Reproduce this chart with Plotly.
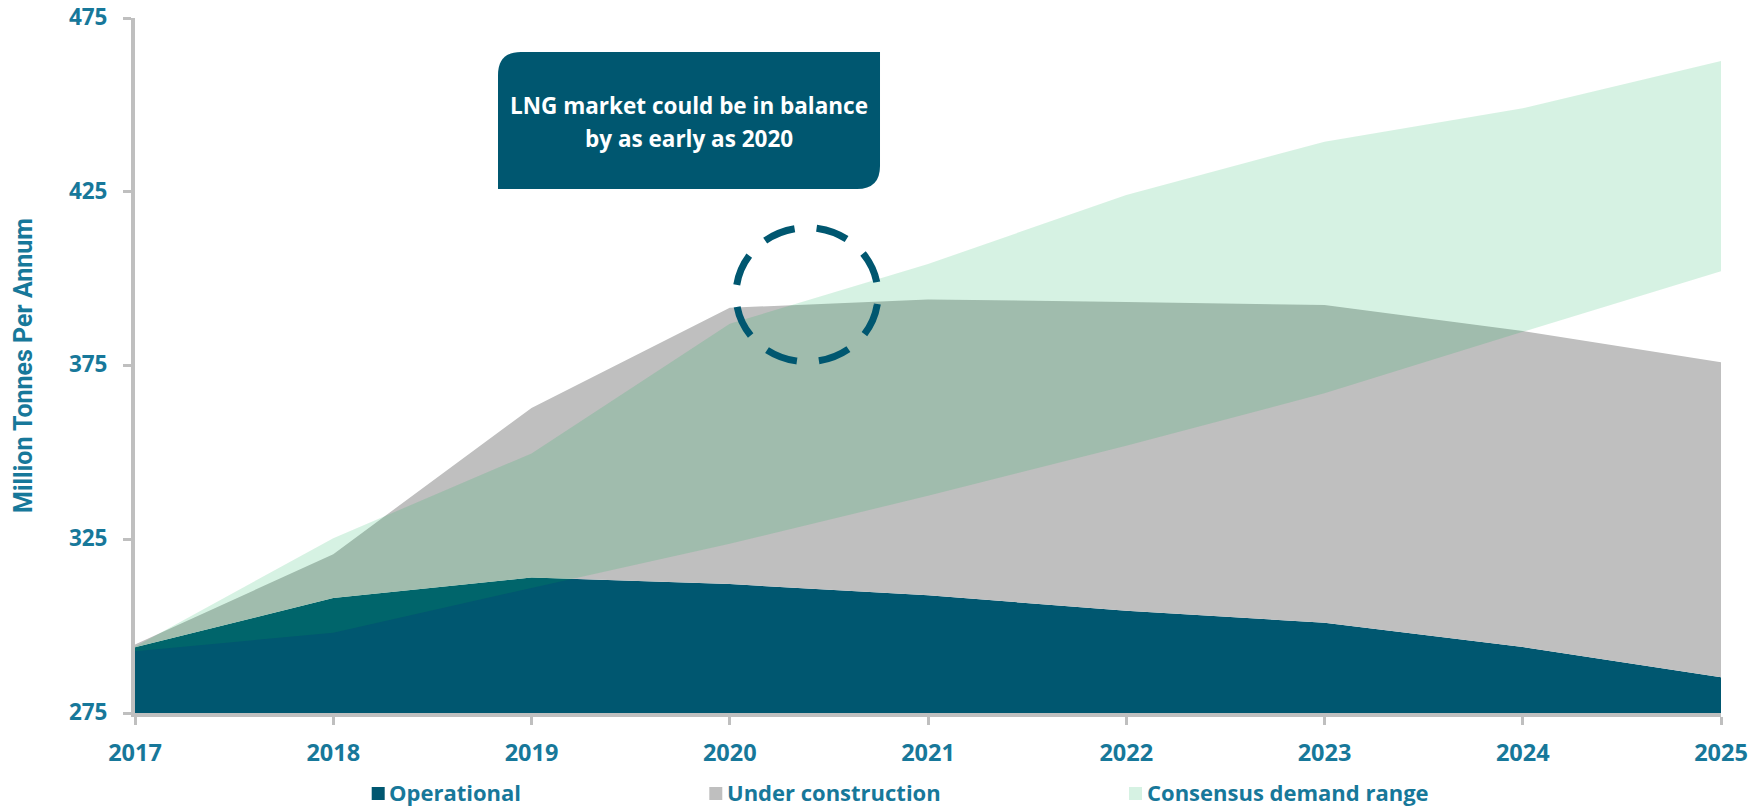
import math
import plotly.graph_objects as go

# LNG supply vs. demand outlook, million tonnes per annum
years = [2017, 2018, 2019, 2020, 2021, 2022, 2023, 2024, 2025]
operational = [293.9, 308.1, 314.0, 312.1, 308.9, 304.4, 301.0, 294.0, 285.3]
under_construction = [0.8, 12.6, 48.8, 79.5, 85.1, 88.9, 91.4, 90.9, 90.6]
demand_low = [292.8, 298.1, 311.0, 323.7, 337.5, 351.9, 367.0, 384.7, 402.1]
demand_high = [294.1, 325.3, 349.7, 387.0, 404.2, 424.1, 439.4, 449.0, 462.6]
y_ticks = [275, 325, 375, 425, 475]
series_names = ["Operational", "Under construction", "Consensus demand range"]

DARK = "rgb(0,87,112)"
GREY = "#bfbfbf"
GREEN = "rgba(0,176,80,0.16)"
LABEL = "#17789a"
SANS = "Open Sans, Lato, sans-serif"

W, H = 1762, 808
ML, MR, MT, MB = 135, 41, 18, 95
PW, PH = W - ML - MR, H - MT - MB


def px(x):
    return (x - ML) / PW


def py(y):
    return (MT + PH - y) / PH


fig = go.Figure()

fig.add_trace(go.Scatter(
    x=years, y=operational, stackgroup="supply", mode="none", name=series_names[0],
    fillcolor=DARK, hoverinfo="skip", showlegend=False))
fig.add_trace(go.Scatter(
    x=years, y=under_construction, stackgroup="supply", mode="none", name=series_names[1],
    fillcolor=GREY, hoverinfo="skip", showlegend=False))
fig.add_trace(go.Scatter(
    x=years, y=demand_low, mode="lines", line=dict(width=0),
    hoverinfo="skip", showlegend=False))
fig.add_trace(go.Scatter(
    x=years, y=demand_high, mode="lines", line=dict(width=0), name=series_names[2],
    fill="tonexty", fillcolor=GREEN, hoverinfo="skip", showlegend=False))

shapes = []
annotations = []

# key below the axis: square swatch followed by the series name
key_cy = 793.5
for name, color, x_sq, x_txt in zip(series_names, [DARK, GREY, GREEN],
                                    [371.7, 709.3, 1129.0], [388.0, 726.0, 1145.5]):
    shapes.append(dict(type="rect", xref="paper", yref="paper",
                       x0=px(x_sq), x1=px(x_sq + 13), y0=py(key_cy - 6.5), y1=py(key_cy + 6.5),
                       fillcolor=color, line=dict(width=0)))
    annotations.append(dict(text=name, x=px(x_txt), y=py(key_cy - 1.5), xref="paper", yref="paper",
                            showarrow=False, xanchor="left", yanchor="middle", borderpad=0,
                            font=dict(family=SANS, size=22, color=LABEL, weight="bold")))

# callout box: rounded top-left and bottom-right corners
L, R, T, B, r = 498, 880, 52, 189, 23
pts = [("M", L + r, T), ("L", R, T), ("L", R, B - r), ("Q", R, B, R - r, B),
       ("L", L, B), ("L", L, T + r), ("Q", L, T, L + r, T)]
path = ""
for p in pts:
    cmd, coords = p[0], p[1:]
    xy = [f"{px(coords[k]):.5f},{py(coords[k + 1]):.5f}" for k in range(0, len(coords), 2)]
    path += cmd + " ".join(xy) + " "
path += "Z"
shapes.append(dict(type="path", xref="paper", yref="paper", path=path,
                   fillcolor=DARK, line=dict(width=0), layer="above"))

# dashed ellipse around the 2020 crossover
cx, cy, rx, ry = 807, 294.7, 71, 67
theta0 = 11 / rx
seg = math.pi / 2
k = 4 / 3 * math.tan(seg / 4)
ell = f"M{px(cx + rx * math.cos(theta0)):.5f},{py(cy + ry * math.sin(theta0)):.5f} "
for s in range(4):
    a0 = theta0 + s * seg
    a1 = a0 + seg
    p1 = (math.cos(a0) - k * math.sin(a0), math.sin(a0) + k * math.cos(a0))
    p2 = (math.cos(a1) + k * math.sin(a1), math.sin(a1) - k * math.cos(a1))
    p3 = (math.cos(a1), math.sin(a1))
    ell += "C" + " ".join(
        f"{px(cx + rx * u):.5f},{py(cy + ry * v):.5f}" for u, v in (p1, p2, p3)) + " "
shapes.append(dict(type="path", xref="paper", yref="paper", path=ell,
                   line=dict(color=DARK, width=7, dash="32px,22px"), layer="above"))

callout_font = dict(family=SANS, size=22.5, color="white", weight="bold")
annotations += [
    dict(text="LNG market could be in balance", x=px(689), y=py(105),
         xref="paper", yref="paper", showarrow=False, xanchor="center", yanchor="middle",
         font=callout_font),
    dict(text="by as early as 2020", x=px(689), y=py(138),
         xref="paper", yref="paper", showarrow=False, xanchor="center", yanchor="middle",
         font=callout_font),
    dict(text="Million Tonnes Per Annum", x=px(23), y=py(365), textangle=-90,
         xref="paper", yref="paper", showarrow=False, xanchor="center", yanchor="middle",
         font=dict(family="Roboto, sans-serif", size=25, color=LABEL, weight="bold")),
]

axis_common = dict(showline=True, linecolor=GREY, linewidth=4, ticks="outside",
                   ticklen=8, tickwidth=3, tickcolor=GREY, showgrid=False,
                   zeroline=False, fixedrange=True, ticklabeloverflow="allow")

fig.update_layout(
    width=W, height=H,
    margin=dict(l=ML, r=MR, t=MT, b=MB, autoexpand=False),
    paper_bgcolor="white", plot_bgcolor="white",
    xaxis=dict(range=[2017, 2025], tickvals=years, ticktext=[str(y) for y in years],
               ticklabelstandoff=8,
               tickfont=dict(family=SANS, size=23.5, color=LABEL, weight="bold"),
               **axis_common),
    yaxis=dict(range=[275, 475], tickvals=y_ticks, ticklabelstandoff=11, ticklabelshift=-1,
               tickfont=dict(family=SANS, size=22.5, color=LABEL, weight="bold"),
               **axis_common),
    shapes=shapes, annotations=annotations, hovermode=False, showlegend=False,
)

fig.write_html("out.html", config={"displayModeBar": False})
